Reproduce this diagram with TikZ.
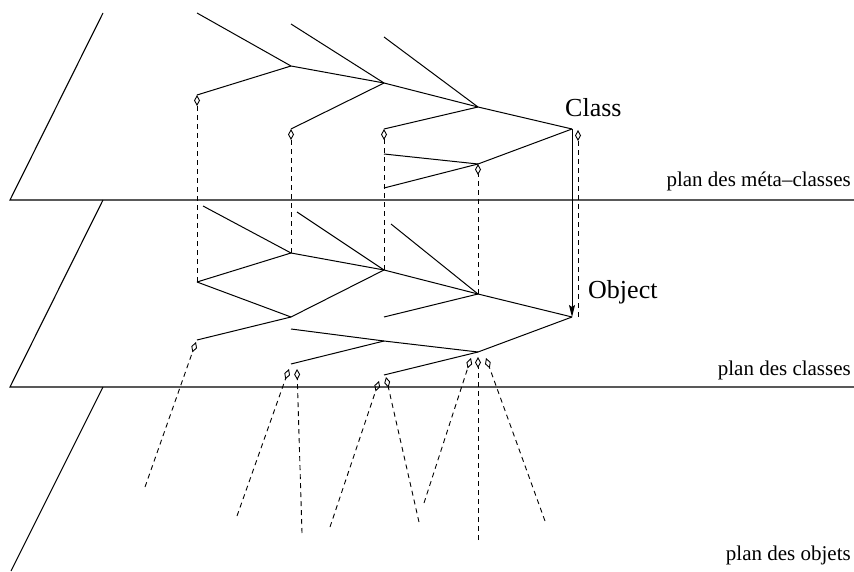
\documentclass[tikz,border=0pt]{standalone}
\usepackage{fontspec}
\setmainfont{Liberation Serif}
\usetikzlibrary{arrows.meta}
\begin{document}
\begin{tikzpicture}[x=1pt,y=-1pt,
  plane/.style={line width=1.1pt},
  edge/.style={line width=1pt},
  inst/.style={line width=0.9pt,dash pattern=on 5pt off 4pt,
    -{Diamond[open,length=11pt,width=6pt,line width=0.9pt]}},
  gen/.style={line width=1pt,-{Stealth[length=12pt,width=6pt,inset=2pt]}},
  planelabel/.style={font=\fontsize{21}{24}\selectfont,inner sep=0pt,anchor=base east},
  biglabel/.style={font=\fontsize{26}{29}\selectfont,inner sep=0pt,anchor=base west}
]
\useasboundingbox (0,0) rectangle (854,572);

% ---------- planes ----------
\coordinate (p1t) at (103,13);  \coordinate (p1b) at (10,200);  \coordinate (p1r) at (854,200);
\coordinate (p2t) at (103,200); \coordinate (p2b) at (10,387);  \coordinate (p2r) at (854,387);
\coordinate (p3t) at (103,387); \coordinate (p3b) at (11,571);
\draw[plane] (p1t) -- (p1b) -- (p1r);
\draw[plane] (p2t) -- (p2b) -- (p2r);
\draw[plane] (p3t) -- (p3b);

\node[planelabel] (lmeta) at (851,187) {plan des méta--classes};
\node[planelabel] (lcls)  at (851,375) {plan des classes};
\node[planelabel] (lobj)  at (851,560) {plan des objets};

% ---------- meta-class plane ----------
\coordinate (M1) at (291,66);
\coordinate (M2) at (384,83);
\coordinate (M3) at (478,107);
\coordinate (MC) at (572,129);
\coordinate (a1) at (197,13);
\coordinate (a2) at (291,24);
\coordinate (a3) at (384,37);
\coordinate (m1) at (197,95);
\coordinate (m2) at (291,129);
\coordinate (m3) at (384,129);
\coordinate (m4) at (478,164);
\coordinate (b1) at (384,154);
\coordinate (b2) at (384,188);

\draw[edge] (a1) -- (M1);
\draw[edge] (a2) -- (M2);
\draw[edge] (a3) -- (M3);
\draw[edge] (M1) -- (M2) -- (M3) -- (MC);
\draw[edge] (M1) -- (m1);
\draw[edge] (M2) -- (m2);
\draw[edge] (M3) -- (m3);
\draw[edge] (MC) -- (m4);
\draw[edge] (m4) -- (b1);
\draw[edge] (m4) -- (b2);

\node[biglabel] (lclass) at (565,117) {Class};

% ---------- class plane ----------
\coordinate (C1) at (291,253);
\coordinate (C2) at (384,270);
\coordinate (C3) at (478,294);
\coordinate (CO) at (572,317);
\coordinate (c1) at (203,206);
\coordinate (c2) at (297,212);
\coordinate (c3) at (391,224);
\coordinate (k1) at (197,282);
\coordinate (k2) at (291,317);
\coordinate (k3) at (384,317);
\coordinate (k4) at (197,340);
\coordinate (k5) at (478,352);
\coordinate (k6) at (384,341);
\coordinate (k7) at (291,329);
\coordinate (k8) at (291,364);
\coordinate (k9) at (384,375);

\draw[edge] (c1) -- (C1);
\draw[edge] (c2) -- (C2);
\draw[edge] (c3) -- (C3);
\draw[edge] (C1) -- (C2) -- (C3) -- (CO);
\draw[edge] (C1) -- (k1);
\draw[edge] (k1) -- (k2);
\draw[edge] (C2) -- (k2);
\draw[edge] (C3) -- (k3);
\draw[edge] (k2) -- (k4);
\draw[edge] (CO) -- (k5);
\draw[edge] (k5) -- (k6) -- (k7);
\draw[edge] (k6) -- (k8);
\draw[edge] (k5) -- (k9);

\node[biglabel] (lobject) at (588,298) {Object};

% ---------- Class -> Object ----------
\draw[gen] (MC) -- (CO);

% ---------- instance-of links, class plane -> meta-class plane ----------
\draw[inst] (k1) -- (m1);
\draw[inst] (C1) -- (m2);
\draw[inst] (C2) -- (m3);
\draw[inst] (C3) -- (m4);
\coordinate (COd) at (578,317);
\coordinate (MCd) at (578,130);
\draw[inst] (COd) -- (MCd);

% ---------- instance-of links, object plane -> class plane ----------
\coordinate (o1) at (145,487);
\coordinate (o2) at (237,516);
\coordinate (o3) at (302,533);
\coordinate (o4) at (330,527);
\coordinate (o5) at (419,522);
\coordinate (o6) at (424,503);
\coordinate (o7) at (478,540);
\coordinate (o8) at (545,521);

\coordinate (t4)  at (196,342);
\coordinate (t8a) at (289,369);
\coordinate (t8b) at (297,369);
\coordinate (t9a) at (379,381);
\coordinate (t9b) at (386,377);
\coordinate (t5a) at (471,358);
\coordinate (t5b) at (478,357);
\coordinate (t5c) at (486,358);

\draw[inst] (o1) -- (t4);
\draw[inst] (o2) -- (t8a);
\draw[inst] (o3) -- (t8b);
\draw[inst] (o4) -- (t9a);
\draw[inst] (o5) -- (t9b);
\draw[inst] (o6) -- (t5a);
\draw[inst] (o7) -- (t5b);
\draw[inst] (o8) -- (t5c);
\end{tikzpicture}
\end{document}
